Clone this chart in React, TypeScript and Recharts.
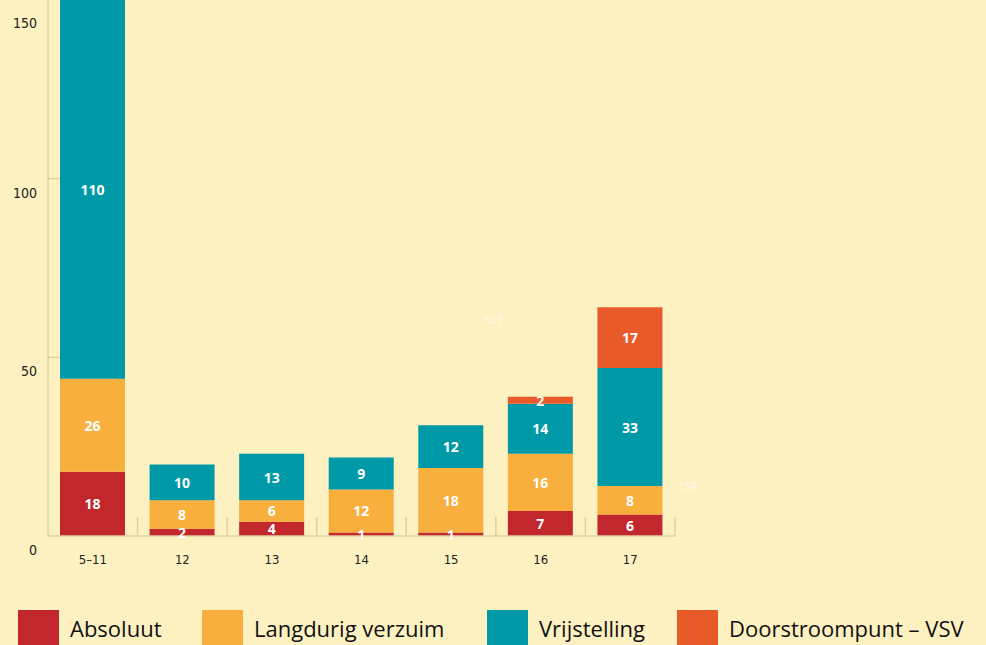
import { Bar, BarChart, LabelList, XAxis, YAxis } from "recharts";

const categories = ["5–11", "12", "13", "14", "15", "16", "17"];
const absoluut = [18, 2, 4, 1, 1, 7, 6];
const langdurig = [26, 8, 6, 12, 18, 16, 8];
const vrijstelling = [110, 10, 13, 9, 12, 14, 33];
const doorstroom = [0, 0, 0, 0, 0, 2, 17];
const yTicks = [0, 50, 100, 150];

// losse getallen die in de bron over de grafiek heen staan
const strayLabels = [
  { text: "527", left: 484, top: 313 },
  { text: "154", left: 678, top: 479 },
];

const series = [
  { key: "absoluut", name: "Absoluut", color: "#c1272d" },
  { key: "langdurig", name: "Langdurig verzuim", color: "#f8af3e" },
  { key: "vrijstelling", name: "Vrijstelling", color: "#0099a7" },
  { key: "doorstroom", name: "Doorstroompunt – VSV", color: "#e85a2a" },
];

const legendLeft = [18, 202, 487, 677];

const data = categories.map((c, i) => ({
  age: c,
  absoluut: absoluut[i],
  langdurig: langdurig[i],
  vrijstelling: vrijstelling[i],
  doorstroom: doorstroom[i],
}));

const BG = "#fdf0c1";
const AXIS = "#ddd1a0";
const W = 986;
const H = 645;
const MARGIN = { top: 0, right: 311, bottom: 79, left: 0 };
const Y_AXIS_W = 48;
const BAND = (W - MARGIN.left - MARGIN.right - Y_AXIS_W) / categories.length;
const tickFont = '"Liberation Sans Narrow", "DejaVu Sans Condensed", sans-serif';

function SegmentLabel(props: any) {
  const { x, y, width, height, value } = props;
  if (!value) return null;
  const top = Math.max(y, 0);
  const cy = (top + y + height) / 2;
  return (
    <text
      x={x + width / 2}
      y={cy}
      textAnchor="middle"
      dominantBaseline="central"
      fill="#fff"
      fontFamily='"Open Sans", sans-serif'
      fontWeight={700}
      fontSize={14}
    >
      {value}
    </text>
  );
}

function YTick(props: any) {
  const { x, y, payload } = props;
  const v = payload.value;
  return (
    <g>
      {v > 0 && v < 150 && (
        <line x1={x + 11} x2={x + 23} y1={y} y2={y} stroke={AXIS} strokeWidth={1.5} />
      )}
      <text x={x} y={y + 19} textAnchor="end" fill="#222" fontFamily={tickFont} fontSize={14}>
        {v}
      </text>
    </g>
  );
}

function XTick(props: any) {
  const { x, y, payload } = props;
  const edge = x + BAND / 2;
  return (
    <g>
      <line x1={edge} x2={edge} y1={y - 19} y2={y} stroke={AXIS} strokeWidth={1.5} />
      <text x={x} y={y + 28} textAnchor="middle" fill="#222" fontFamily={tickFont} fontSize={13}>
        {payload.value}
      </text>
    </g>
  );
}

export default function App() {
  return (
    <div
      style={{
        position: "absolute",
        left: 0,
        top: 0,
        width: W,
        height: H,
        background: BG,
        overflow: "hidden",
      }}
    >
      <BarChart width={W} height={H} data={data} margin={MARGIN} barSize={65}>
        <XAxis
          dataKey="age"
          height={30}
          tickLine={false}
          tickSize={0}
          tickMargin={0}
          axisLine={{ stroke: AXIS, strokeWidth: 1.5 }}
          tick={<XTick />}
          interval={0}
        />
        <YAxis
          width={Y_AXIS_W}
          domain={[0, 150]}
          ticks={yTicks}
          allowDataOverflow
          tickLine={false}
          tickSize={0}
          tickMargin={11}
          axisLine={{ stroke: AXIS, strokeWidth: 1.5 }}
          tick={<YTick />}
        />
        {series.map((s) => (
          <Bar key={s.key} dataKey={s.key} name={s.name} stackId="a" fill={s.color} isAnimationActive={false}>
            <LabelList dataKey={s.key} content={<SegmentLabel />} />
          </Bar>
        ))}
      </BarChart>

      {strayLabels.map((l) => (
        <div
          key={l.text}
          style={{
            position: "absolute",
            left: l.left,
            top: l.top,
            color: "#fffaf0",
            fontFamily: '"Open Sans", sans-serif',
            fontSize: 11,
            lineHeight: "14px",
          }}
        >
          {l.text}
        </div>
      ))}

      {series.map((s, i) => (
        <div
          key={s.key}
          style={{
            position: "absolute",
            left: legendLeft[i],
            top: 610,
            display: "flex",
            alignItems: "flex-start",
            whiteSpace: "nowrap",
          }}
        >
          <div style={{ width: 41, height: 40, background: s.color }} />
          <span
            style={{
              marginLeft: 11,
              marginTop: 3,
              fontFamily: '"Open Sans", sans-serif',
              fontSize: 22,
              lineHeight: "30px",
              color: "#111",
            }}
          >
            {s.name}
          </span>
        </div>
      ))}
    </div>
  );
}
